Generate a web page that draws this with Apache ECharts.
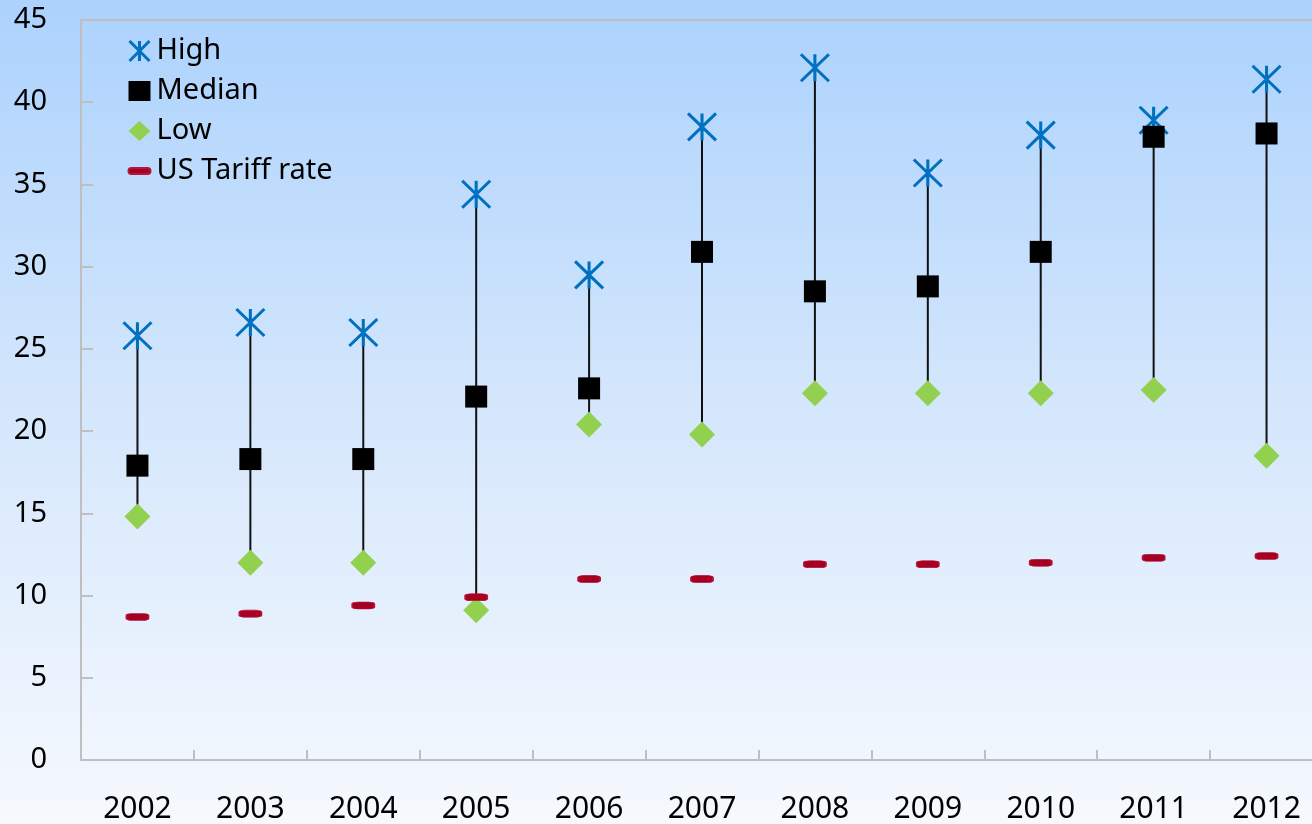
<!DOCTYPE html>
<html>
<head>
<meta charset="utf-8">
<script src="https://cdn.jsdelivr.net/npm/echarts@6/dist/echarts.min.js"></script>
<style>
  html, body { margin: 0; padding: 0; background: #f6f9fe; overflow: hidden; }
  /* the plot runs slightly past the right edge of the window */
  #chart { width: 1324px; height: 824px; }
</style>
</head>
<body>
<div id="chart"></div>
<script>
// Tariff rate ranges by year (percent)
const years = ['2002', '2003', '2004', '2005', '2006', '2007', '2008', '2009', '2010', '2011', '2012'];
const high = [25.8, 26.6, 26.0, 34.4, 29.5, 38.5, 42.1, 35.7, 38.0, 38.9, 41.4];
const median = [17.9, 18.3, 18.3, 22.1, 22.6, 30.9, 28.5, 28.8, 30.9, 37.9, 38.1];
const low = [14.8, 12.0, 12.0, 9.1, 20.4, 19.8, 22.3, 22.3, 22.3, 22.5, 18.5];
const usTariff = [8.7, 8.9, 9.4, 9.9, 11.0, 11.0, 11.9, 11.9, 12.0, 12.3, 12.4];
const yTicks = { min: 0, max: 45, interval: 5 };

const FONT = 'Noto Sans';
const AXIS_GRAY = '#BFBFBF';
const STAR = 'path://M0,0L28,28M28,0L0,28M14,0L14,28';

const chart = echarts.init(document.getElementById('chart'), null, { renderer: 'canvas' });

const option = {
  animation: false,
  backgroundColor: {
    type: 'linear', x: 0, y: 0, x2: 0, y2: 1,
    colorStops: [
      { offset: 0, color: '#ACD2FD' },
      { offset: 0.5, color: '#D5E7FC' },
      { offset: 1, color: '#F6F9FE' }
    ]
  },
  textStyle: { fontFamily: FONT },
  grid: { left: 81, top: 20, width: 1242, height: 741.5, containLabel: false },
  legend: {
    orient: 'vertical',
    left: 122,
    top: 31,
    itemWidth: 22,
    itemHeight: 20,
    itemGap: 10,
    textStyle: { fontFamily: FONT, fontSize: 29, color: '#000', lineHeight: 30, padding: [0, 0, 0, 1] },
    data: [
      { name: 'High', icon: STAR, itemStyle: { color: 'none', borderColor: '#0070C0', borderWidth: 3 } },
      { name: 'Median', icon: 'rect', itemStyle: { color: '#000' } },
      { name: 'Low', icon: 'diamond', itemStyle: { color: '#92D050' } },
      { name: 'US Tariff rate', icon: 'path://M3,0L19,0A3,3,0,0,1,19,6L3,6A3,3,0,0,1,3,0Z', itemStyle: { color: '#A50021' } }
    ]
  },
  xAxis: [
    {
      type: 'category',
      data: years,
      boundaryGap: true,
      axisLine: { show: true, lineStyle: { color: AXIS_GRAY, width: 2 } },
      axisTick: { show: true, inside: true, length: 10, interval: 0, lineStyle: { color: AXIS_GRAY, width: 2 } },
      axisLabel: { fontFamily: FONT, fontSize: 30, color: '#000', margin: 34, interval: 0 },
      splitLine: { show: false }
    },
    {
      // thin frame line along the top of the plot
      type: 'category',
      data: years,
      position: 'top',
      axisLine: { show: true, lineStyle: { color: AXIS_GRAY, width: 2 } },
      axisTick: { show: false },
      axisLabel: { show: false },
      splitLine: { show: false }
    }
  ],
  yAxis: {
    type: 'value',
    min: yTicks.min,
    max: yTicks.max,
    interval: yTicks.interval,
    axisLine: { show: true, lineStyle: { color: AXIS_GRAY, width: 2 } },
    axisTick: { show: true, inside: true, length: 12, lineStyle: { color: AXIS_GRAY, width: 2 } },
    axisLabel: { fontFamily: FONT, fontSize: 29, color: '#000', margin: 34 },
    splitLine: { show: false }
  },
  series: [
    {
      // high-low range lines
      type: 'custom',
      name: 'range',
      z: 1,
      silent: true,
      data: years.map((y, i) => [i, low[i], high[i]]),
      encode: { x: 0, y: [1, 2] },
      renderItem: function (params, api) {
        const a = api.coord([api.value(0), api.value(1)]);
        const b = api.coord([api.value(0), api.value(2)]);
        return {
          type: 'line',
          shape: { x1: a[0], y1: a[1], x2: b[0], y2: b[1] },
          style: { stroke: '#111', lineWidth: 2 }
        };
      }
    },
    {
      name: 'High',
      type: 'scatter',
      z: 3,
      symbol: STAR,
      symbolSize: [28, 27],
      itemStyle: { color: 'none', borderColor: '#0070C0', borderWidth: 3, opacity: 1 },
      data: high
    },
    {
      name: 'Median',
      type: 'scatter',
      z: 4,
      symbol: 'rect',
      symbolSize: 22,
      itemStyle: { color: '#000', opacity: 1 },
      data: median
    },
    {
      name: 'Low',
      type: 'scatter',
      z: 5,
      symbol: 'diamond',
      symbolSize: 26,
      itemStyle: { color: '#92D050', opacity: 1 },
      data: low
    },
    {
      name: 'US Tariff rate',
      type: 'scatter',
      z: 6,
      symbol: 'roundRect',
      symbolSize: [22, 7],
      itemStyle: { color: '#A50021', borderColor: '#B5153C', borderWidth: 1, opacity: 1 },
      data: usTariff
    }
  ]
};

chart.setOption(option);
</script>
</body>
</html>
